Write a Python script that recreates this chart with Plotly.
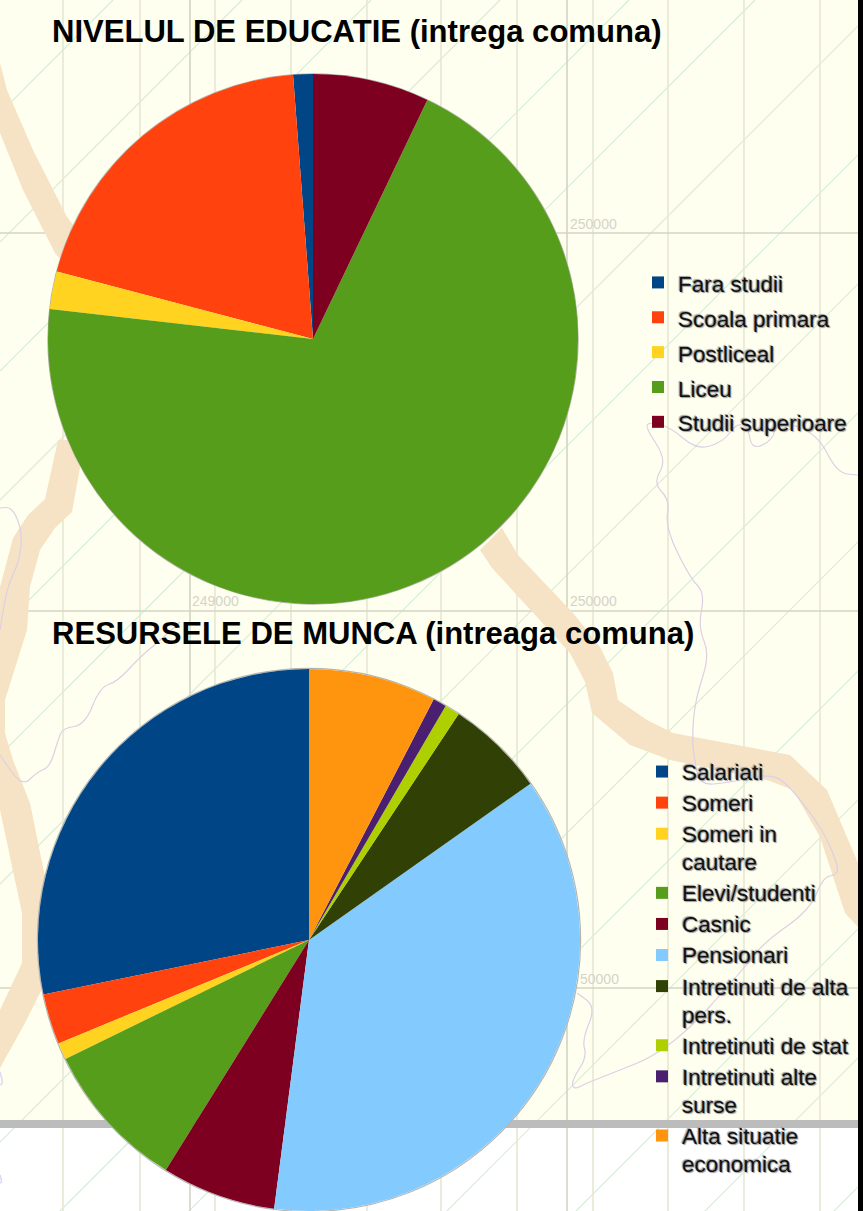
import plotly.graph_objects as go

W, H = 863, 1211

# ---- chart data (percent shares) ----
edu_title = "NIVELUL DE EDUCATIE (intrega comuna)"
edu_labels = ["Fara studii", "Scoala primara", "Postliceal", "Liceu", "Studii superioare"]
edu_values = [1.2, 19.7, 2.3, 69.7, 7.1]

work_title = "RESURSELE DE MUNCA (intreaga comuna)"
work_labels = ["Salariati", "Someri", "Someri in<br>cautare", "Elevi/studenti", "Casnic",
               "Pensionari", "Intretinuti de alta<br>pers.", "Intretinuti de stat",
               "Intretinuti alte<br>surse", "Alta situatie<br>economica"]
work_values = [28.2, 3.0, 1.0, 8.9, 6.8, 36.8, 5.9, 0.9, 0.8, 7.6]

slice_colors = ["#004586", "#ff420e", "#ffd320", "#579d1c", "#7e0021",
                "#83caff", "#314004", "#aecf00", "#4b1f6f", "#ff950e"]
edu_colors = slice_colors[:5]

map_labels = [("250000", 568, 224), ("249000", 190, 601), ("250000", 568, 601), ("50000", 578, 979)]

# ---- background map decoration (pixel space of the photographed page) ----
PAPER = "#ffffef"
ROAD = "#f6e3c5"
RIVER = "#dccfe6"
GRID = "#e7e7d4"
GRID2 = "#d4d4c4"
DIAG = "#d6ecd8"


def px(x, y):
    return x / W, 1 - y / H


def path(points, close=False):
    parts = []
    for i, (x, y) in enumerate(points):
        u, v = px(x, y)
        parts.append(("M" if i == 0 else "L") + f"{u:.5f},{v:.5f}")
    return " ".join(parts) + (" Z" if close else "")


def smooth(points):
    u, v = px(*points[0])
    parts = [f"M{u:.5f},{v:.5f}"]
    for (x0, y0), (x1, y1) in zip(points[:-1], points[1:]):
        cu, cv = px(x0, y0)
        mu, mv = px((x0 + x1) / 2, (y0 + y1) / 2)
        parts.append(f"Q{cu:.5f},{cv:.5f} {mu:.5f},{mv:.5f}")
    u, v = px(*points[-1])
    parts.append(f"L{u:.5f},{v:.5f}")
    return " ".join(parts)


def rect(x0, y0, x1, y1, color):
    a, b = px(x0, y0)
    c, d = px(x1, y1)
    return dict(type="rect", xref="paper", yref="paper", x0=a, y0=b, x1=c, y1=d,
                fillcolor=color, line_width=0, layer="below")


def seg(x0, y0, x1, y1, color, w=1.5):
    a, b = px(x0, y0)
    c, d = px(x1, y1)
    return dict(type="line", xref="paper", yref="paper", x0=a, y0=b, x1=c, y1=d,
                line=dict(color=color, width=w), layer="below")


def poly(points, color):
    return dict(type="path", xref="paper", yref="paper", path=path(points, True),
                fillcolor=color, line_width=0, layer="below")


def curve(points, color, w=1.2):
    return dict(type="path", xref="paper", yref="paper", path=smooth(points),
                line=dict(color=color, width=w), layer="below")


def ring(cx, cy, r):
    a, b = px(cx - r, cy - r)
    c, d = px(cx + r, cy + r)
    return dict(type="circle", xref="paper", yref="paper", x0=a, y0=b, x1=c, y1=d,
                line=dict(color="#b4b4b0", width=1.2), layer="below")


shapes = [rect(0, 0, W, 1124, PAPER)]
for c in [113, 242, 371, 500, 629, 755, 884, 1013, 1142, 1271, 1400, 1529, 1658, 1787, 1916, 2045]:
    shapes.append(seg(0, c, c, 0, DIAG, 1.2))
for x in [63, 140, 215, 291, 367, 441, 517, 593, 668, 744, 820]:
    shapes.append(seg(x, 0, x, H, GRID, 1.6))
for x in [190, 567]:
    shapes.append(seg(x, 0, x, H, GRID2, 1.6))
for y in [233, 611, 988]:
    shapes.append(seg(0, y, W, y, GRID2, 1.4))

shapes.append(poly([(0, 63), (7, 90), (33, 150), (67, 217), (100, 260), (70, 270), (55, 253),
                    (23, 190), (0, 133)], ROAD))
shapes.append(poly([(58, 440), (45, 499), (28, 515), (13, 538), (0, 587), (-5, 600), (-5, 790),
                    (0, 810), (22, 913), (22, 963), (0, 1010), (-5, 1020), (-5, 1075), (0, 1068),
                    (25, 1023), (50, 973), (50, 900), (43, 867), (30, 803), (13, 760), (5, 733),
                    (5, 700), (27, 630), (30, 587), (40, 550), (55, 528), (72, 512), (85, 440)], ROAD))
shapes.append(poly([(502, 528), (518, 555), (573, 613), (600, 647), (613, 673), (618, 700),
                    (647, 720), (673, 733), (790, 755), (827, 790), (858, 863), (858, 927),
                    (845, 913), (820, 837), (793, 790), (767, 780), (670, 760), (630, 745),
                    (592, 713), (585, 682), (570, 653), (492, 568), (480, 550)], ROAD))

shapes.append(curve([(577, 993), (596, 1007), (582, 1040), (587, 1057), (572, 1080), (573, 1090),
                     (587, 1083), (600, 1078), (670, 1050), (743, 970), (763, 943), (810, 910),
                     (823, 877), (837, 875), (838, 865), (823, 830), (793, 790), (773, 773),
                     (727, 783), (700, 785), (695, 763), (692, 740), (695, 700), (710, 655),
                     (698, 627), (705, 593), (690, 578), (665, 527), (670, 500), (653, 483),
                     (667, 460), (645, 427), (650, 422), (670, 427), (697, 450), (723, 442),
                     (737, 423), (748, 427), (752, 450), (773, 440), (777, 420), (817, 433),
                     (837, 473), (858, 475)], RIVER))
shapes.append(curve([(0, 508), (12, 507), (22, 530), (20, 560), (7, 587), (0, 630)], RIVER))
shapes.append(curve([(180, 622), (157, 643), (140, 657), (117, 682), (100, 687), (85, 725),
                     (63, 728), (58, 740), (50, 767), (37, 772), (22, 787), (0, 755)], RIVER))
shapes.append(curve([(0, 1072), (3, 1083), (0, 1085)], "#d8d8f8", 1.5))
shapes.append(curve([(0, 1175), (2, 1182), (0, 1183)], "#d8d8f8", 1.5))

shapes.append(rect(0, 1120, W, 1128, "#bcbcbc"))
shapes.append(rect(858, 0, W, H, "#000000"))
shapes.append(ring(313, 339, 265.1))
shapes.append(ring(309, 940, 271.6))

annotations = []
for text, x, y in map_labels:
    u, v = px(x, y)
    annotations.append(dict(text=text, x=u, y=v, xref="paper", yref="paper", xanchor="left",
                            yanchor="middle", showarrow=False,
                            font=dict(family="Liberation Sans", size=14, color="#d4d4c8")))
for text, y in [(edu_title, 32), (work_title, 633)]:
    u, v = px(50, y)
    annotations.append(dict(text=f"<b>{text}</b>", x=u, y=v, xref="paper", yref="paper", xanchor="left",
                            yanchor="middle", showarrow=False,
                            font=dict(family="Liberation Sans", size=31.05, color="#000000")))

# the legends use a base size that gives the reference's row spacing; the span sets the glyph size
def sized(labels):
    return ["<br>".join(f'<span style="font-size:22.5px">{p}</span>' for p in t.split("<br>")) for t in labels]


fig = go.Figure()
fig.add_trace(go.Pie(labels=sized(edu_labels), values=edu_values, sort=False, direction="counterclockwise",
                     rotation=-edu_values[0] / sum(edu_values) * 360, textinfo="none", hoverinfo="skip",
                     marker=dict(colors=edu_colors, line=dict(width=0)),
                     domain=dict(x=[48 / W, 578 / W], y=[1 - 604 / H, 1 - 74 / H]),
                     legend="legend"))
fig.add_trace(go.Pie(labels=sized(work_labels), values=work_values, sort=False, direction="counterclockwise",
                     rotation=-work_values[0] / sum(work_values) * 360, textinfo="none", hoverinfo="skip",
                     marker=dict(colors=slice_colors, line=dict(width=0)),
                     domain=dict(x=[38 / W, 580 / W], y=[0, 1 - 669 / H]),
                     legend="legend2"))

SHADOW = "1px 1px 1px #9a9a9a, -1px -1px 1px #9a9a9a"
lx1, ly1 = px(638, 260)
lx2, ly2 = px(642, 751)
common = dict(xanchor="left", yanchor="top", bgcolor="rgba(0,0,0,0)", itemwidth=30,
              traceorder="normal", itemclick=False, itemdoubleclick=False, valign="top")
fig.update_layout(
    width=W, height=H, margin=dict(l=0, r=0, t=0, b=0), autosize=False,
    paper_bgcolor="#ffffff", plot_bgcolor="rgba(0,0,0,0)",
    shapes=shapes, annotations=annotations,
    showlegend=True,
    legend=dict(x=lx1, y=ly1, font=dict(family="Liberation Sans", size=24.5, color="#111111", shadow=SHADOW), **common),
    legend2=dict(x=lx2, y=ly2, font=dict(family="Liberation Sans", size=21.6, color="#111111", shadow=SHADOW), **common),
)
fig.write_html("out.html", config=dict(displayModeBar=False),
               post_script="document.documentElement.style.overflow='hidden';document.body.style.margin='0';")
